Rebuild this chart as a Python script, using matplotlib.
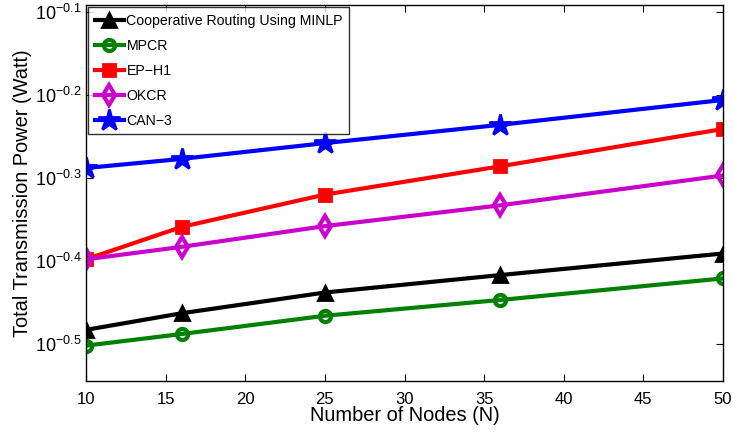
import numpy as np
import matplotlib
matplotlib.use("Agg")
import matplotlib.pyplot as plt
from matplotlib.ticker import FixedLocator, NullLocator

plt.rcParams["font.family"] = ["Liberation Sans", "DejaVu Sans"]
plt.rcParams["mathtext.fontset"] = "custom"
plt.rcParams["mathtext.rm"] = "Liberation Sans"
plt.rcParams["mathtext.it"] = "Liberation Sans:italic"

nodes = [10, 16, 25, 36, 50]
# log10 of power
minlp = [-0.483, -0.463, -0.438, -0.417, -0.391]
mpcr = [-0.502, -0.488, -0.466, -0.447, -0.421]
ep_h1 = [-0.398, -0.359, -0.320, -0.286, -0.241]
okcr = [-0.398, -0.383, -0.358, -0.333, -0.297]
can3 = [-0.288, -0.277, -0.258, -0.236, -0.206]

labels = ["Cooperative Routing Using MINLP", "MPCR", "EP\u2212H1", "OKCR", "CAN\u22123"]
series = [minlp, mpcr, ep_h1, okcr, can3]
colors = ["k", "#008000", "#FF0000", "#CC00CC", "#0000FF"]
markers = ["^", "o", "s", "d", "*"]
msizes = [10, 8, 8, 10, 16]
filled = [True, False, True, False, True]

ytick_exp = [-0.5, -0.4, -0.3, -0.2, -0.1]

fig = plt.figure(figsize=(7.33, 4.33), dpi=100)
ax = fig.add_axes([86 / 733, 52 / 433, 637 / 733, 376 / 433])

for vals, lab, c, m, ms, f in zip(series, labels, colors, markers, msizes, filled):
    y = 10 ** np.array(vals)
    ax.plot(nodes, y, color=c, lw=3, marker=m, ms=ms, mfc=c if f else "none",
            mec=c, mew=2 if f else 3, label=lab)

ax.set_yscale("log")
ax.set_xlim(10, 50)
ax.set_ylim(10 ** -0.5446, 10 ** -0.0916)
ax.set_xticks([10, 15, 20, 25, 30, 35, 40, 45, 50])
ax.yaxis.set_major_locator(FixedLocator([10 ** e for e in ytick_exp]))
ax.yaxis.set_minor_locator(NullLocator())
ax.set_yticklabels([r"$10^{%s}$" % ("\u2212%.1f" % abs(e)) for e in ytick_exp])
ax.tick_params(direction="in", top=True, right=True, length=5, width=0.8)
ax.tick_params(axis="x", labelsize=12, pad=8)
ax.tick_params(axis="y", labelsize=13, pad=3)
for s in ax.spines.values():
    s.set_linewidth(1.0)

ax.set_xlabel("Number of Nodes (N)", fontsize=14.4, labelpad=-1)
ax.set_ylabel("Total Transmission Power (Watt)", fontsize=14.4, labelpad=2)

leg = ax.legend(loc="upper left", fontsize=10.2, frameon=True, fancybox=False,
                edgecolor="k", handlelength=2.1, handletextpad=0.15,
                labelspacing=0.78, borderaxespad=0.15, borderpad=0.45)
leg.get_frame().set_linewidth(1.0)

fig.savefig("out.png", dpi=100)
